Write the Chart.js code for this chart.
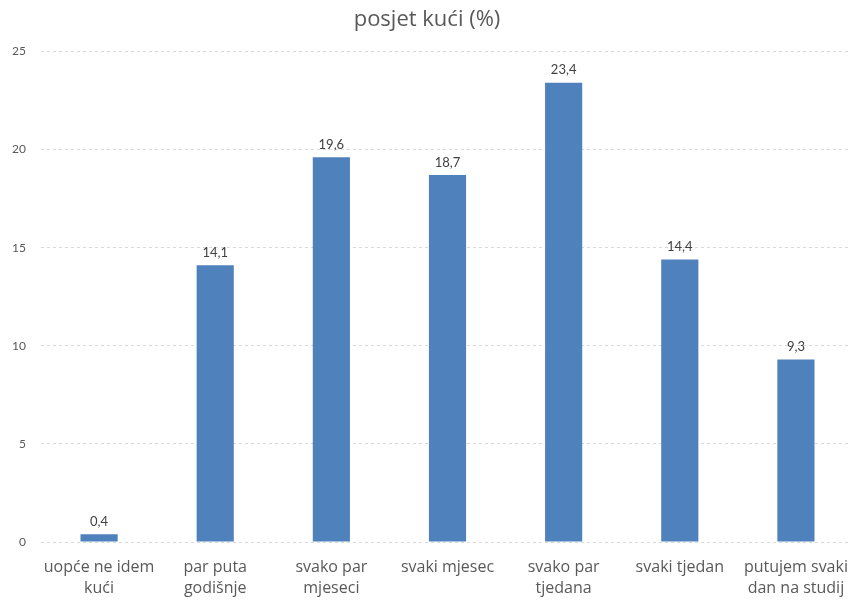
<!DOCTYPE html>
<html>
<head>
<meta charset="utf-8">
<script src="https://cdn.jsdelivr.net/npm/chart.js@4/dist/chart.umd.min.js"></script>
<style>
  html, body { margin: 0; padding: 0; background: #fff; overflow: hidden; }
  #wrap { position: relative; width: 854px; height: 600px; }
</style>
</head>
<body>
<div id="wrap"><canvas id="c"></canvas></div>
<script>
// Categories (multi-line labels) and values in percent
const categories = [
  ['uopće ne idem', 'kući'],
  ['par puta', 'godišnje'],
  ['svako par', 'mjeseci'],
  ['svaki mjesec'],
  ['svako par', 'tjedana'],
  ['svaki tjedan'],
  ['putujem svaki', 'dan na studij']
];
const values = [0.4, 14.1, 19.6, 18.7, 23.4, 14.4, 9.3];
const yTicks = [0, 5, 10, 15, 20, 25];
const chartTitle = 'posjet kući (%)';

const FONT = '"Open Sans", Lato, sans-serif';
const NUM_FONT = 'Lato, "Open Sans", sans-serif';

// Value labels above each bar, decimal comma
const valueLabels = {
  id: 'valueLabels',
  afterDatasetsDraw(chart) {
    const ctx = chart.ctx;
    const meta = chart.getDatasetMeta(0);
    ctx.save();
    ctx.font = '13px ' + NUM_FONT;
    ctx.fillStyle = '#404040';
    ctx.textAlign = 'center';
    ctx.textBaseline = 'bottom';
    meta.data.forEach((bar, i) => {
      const txt = values[i].toFixed(1).replace('.', ',');
      ctx.fillText(txt, bar.x, bar.y - 6);
    });
    ctx.restore();
  }
};

new Chart(document.getElementById('c'), {
  type: 'bar',
  data: {
    labels: categories,
    datasets: [{
      data: values,
      backgroundColor: '#4F81BD',
      borderWidth: 0,
      categoryPercentage: 1,
      barPercentage: 0.32
    }]
  },
  options: {
    responsive: true,
    maintainAspectRatio: false,
    animation: false,
    layout: { padding: { left: 0, right: 0, top: 0, bottom: 0 } },
    plugins: {
      legend: { display: false },
      tooltip: { enabled: false },
      title: {
        display: true,
        text: chartTitle,
        color: '#595959',
        font: { family: FONT, size: 22, weight: 'normal' },
        padding: { top: 7, bottom: 18 }
      }
    },
    scales: {
      x: {
        grid: { display: false, drawTicks: false },
        border: { display: false },
        ticks: {
          color: '#595959',
          font: { family: FONT, size: 16, lineHeight: 1.32 },
          padding: 15,
          maxRotation: 0,
          autoSkip: false
        },
        afterFit(scale) {
          scale.height = 58;
          // labels fit inside their categories; no extra side padding
          scale.paddingLeft = 0;
          scale.paddingRight = 0;
        }
      },
      y: {
        min: 0,
        max: 25,
        afterBuildTicks(scale) { scale.ticks = yTicks.map(v => ({ value: v })); },
        grid: { color: '#d9d9d9', drawTicks: false, lineWidth: 1 },
        border: { display: false, dash: [3, 3] },
        ticks: {
          color: '#595959',
          font: { family: NUM_FONT, size: 12 },
          padding: 15
        },
        afterFit(scale) { scale.width = 41; }
      }
    }
  },
  plugins: [valueLabels]
});
</script>
</body>
</html>
